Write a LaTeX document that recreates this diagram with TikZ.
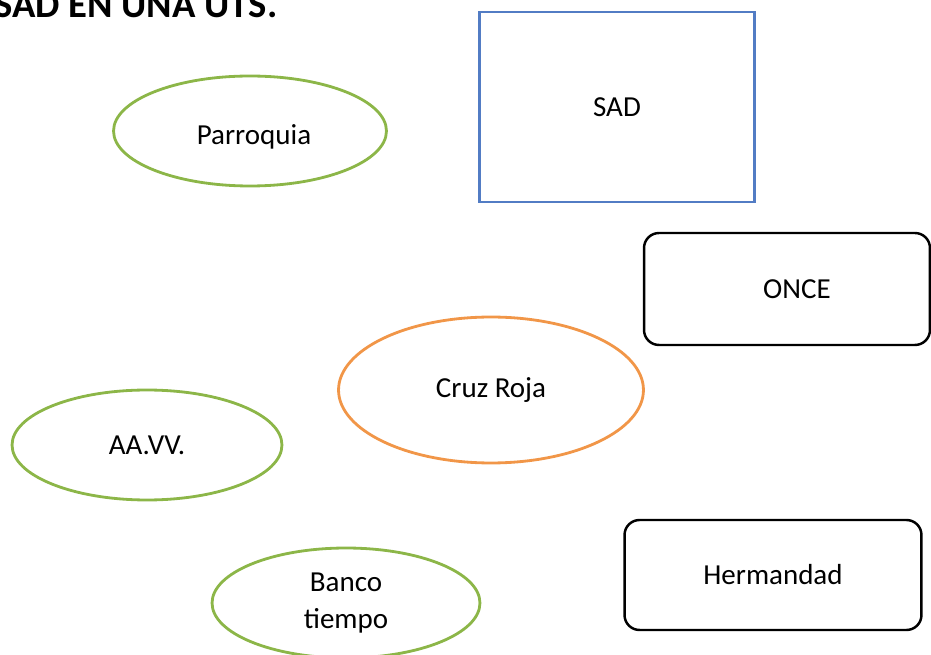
\documentclass[tikz,border=0pt]{standalone}
\usepackage{fontspec}
\setmainfont{Carlito}
\usetikzlibrary{shapes.geometric}
\definecolor{utsgreen}{RGB}{140,182,72}
\definecolor{utsorange}{RGB}{241,150,72}
\definecolor{utsblue}{RGB}{82,124,196}

\begin{document}
\begin{tikzpicture}[x=0.02cm,y=-0.02cm]
\tikzstyle{every node}+=[font=\fontsize{16.5}{21.5}\selectfont,align=center]
\tikzstyle{green oval}=[ellipse,draw=utsgreen,line width=1.6pt,minimum width=5.4cm,minimum height=2.2cm]
\tikzstyle{entity box}=[rectangle,rounded corners=0.3cm,draw=black,line width=1.4pt]
\useasboundingbox (0,0) rectangle (931,655);
% title
\node[anchor=base west,inner sep=0pt,font=\fontsize{22}{26}\selectfont\bfseries] (title) at (-6,18) {SAD EN UNA UTS.};
% service
\node[rectangle,draw=utsblue,line width=1.6pt,minimum width=5.5cm,minimum height=3.8cm] (sad) at (617,107) {SAD};
% resources
\node[green oval,minimum width=5.46cm] (parroquia) at (250,131) {\hspace{0.16cm}\raisebox{-0.27cm}[0pt][0pt]{Parroquia}};
\node[entity box,minimum width=5.72cm,minimum height=2.24cm] (once) at (787,289) {\hspace{0.4cm}ONCE};
\node[ellipse,draw=utsorange,line width=1.6pt,minimum width=6.1cm,minimum height=2.92cm] (cruz) at (491,390) {Cruz Roja};
\node[green oval] (aavv) at (147,445) {AA.VV.};
\node[green oval,minimum width=5.36cm] (banco) at (346,603) {Banco\\tiempo};
\node[entity box,minimum width=5.94cm,minimum height=2.2cm] (hermandad) at (773,575) {Hermandad};
\end{tikzpicture}
\end{document}
